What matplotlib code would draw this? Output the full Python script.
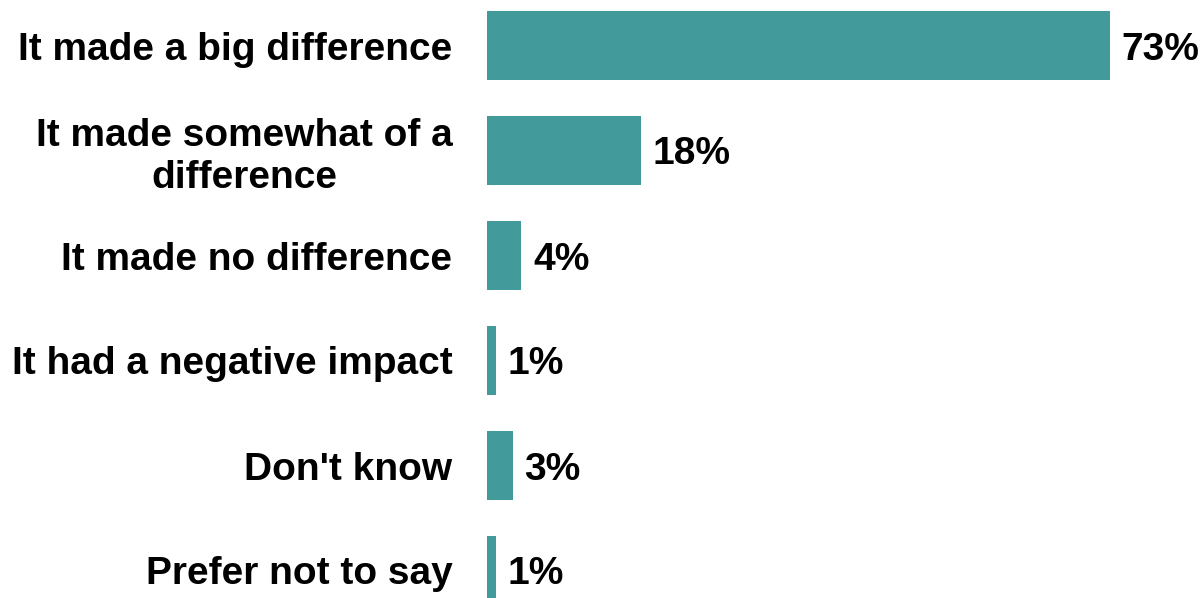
import matplotlib
matplotlib.use("Agg")
import matplotlib.pyplot as plt

categories = [
    "It made a big difference",
    "It made somewhat of a\ndifference",
    "It made no difference",
    "It had a negative impact",
    "Don't know",
    "Prefer not to say",
]
values = [73, 18, 4, 1, 3, 1]
value_labels = ["73%", "18%", "4%", "1%", "3%", "1%"]

bar_color = "#439A9A"
plt.rcParams["font.family"] = ["Liberation Sans", "DejaVu Sans"]

W, H = 1200, 598
fig = plt.figure(figsize=(W / 100, H / 100), dpi=100)
left_px = 487
ax = fig.add_axes([left_px / W, 0, 1 - left_px / W, 1])

px_per_unit = (1110 - left_px) / 73
ax.set_xlim(0, (W - left_px) / px_per_unit)
pitch = 105
ax.set_ylim((H - 45.5) / pitch, -45.5 / pitch)

ypos = list(range(len(categories)))
ax.barh(ypos, values, height=69 / pitch, color=bar_color)

for y, v, lab in zip(ypos, values, value_labels):
    ax.annotate(lab, (v, y), xytext=(8.5, 0), textcoords="offset points",
                ha="left", va="center_baseline", fontsize=28, fontweight="bold")

ax.set_yticks(ypos)
ax.set_yticklabels(categories, fontsize=28, fontweight="bold",
                   multialignment="center", linespacing=1.2)
ax.tick_params(axis="y", length=0, pad=25)
ax.set_xticks([])
for s in ax.spines.values():
    s.set_visible(False)

fig.savefig("out.png", dpi=100)
